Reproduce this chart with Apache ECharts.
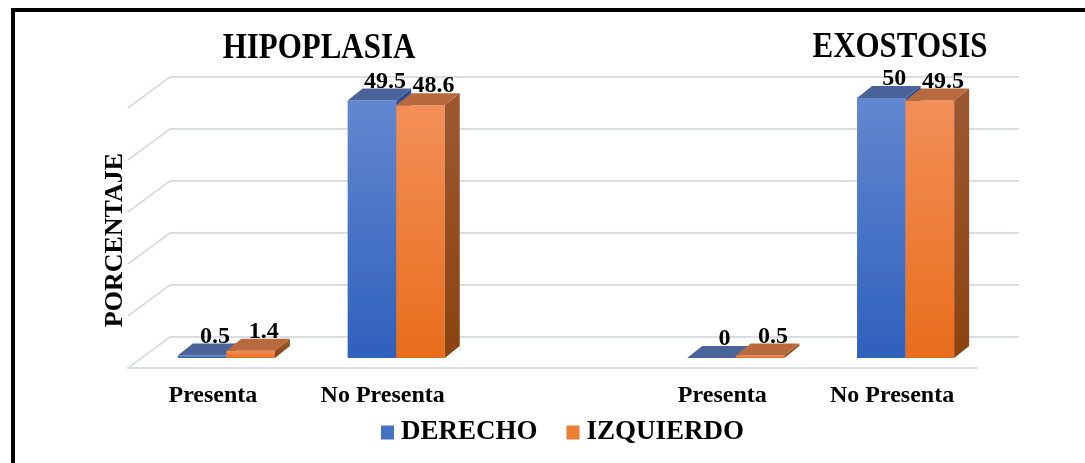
<!DOCTYPE html>
<html>
<head>
<meta charset="utf-8">
<script src="https://cdn.jsdelivr.net/npm/echarts@6/dist/echarts.min.js"></script>
<style>
  html, body { margin: 0; padding: 0; background: #fff; }
  #chart { width: 1085px; height: 463px; }
</style>
</head>
<body>
<div id="chart"></div>
<script>
// Categories along the floor; the empty slot separates the two panels
const categories = ['Presenta', 'No Presenta', '', 'Presenta', 'No Presenta'];
const derecho = [0.5, 49.5, null, 0, 50];
const izquierdo = [1.4, 48.6, null, 0.5, 49.5];
const yTicks = [0, 10, 20, 30, 40, 50];
const panelTitles = ['HIPOPLASIA', 'EXOSTOSIS'];
const seriesNames = ['DERECHO', 'IZQUIERDO'];
const axisTitle = 'PORCENTAJE';

const SERIF = '"Liberation Serif", "Times New Roman", serif';
// pseudo-3D geometry (pixels)
const FLOOR = [42, -31];   // back wall offset from the front floor edge
const FRONT = [13.5, -10]; // bar front face offset from the front floor edge
const DEPTH = [15, -12];   // bar depth
const BAR_W = 0.286;       // bar width as a fraction of the category band

const faces = [
  { // DERECHO
    front: new echarts.graphic.LinearGradient(0, 0, 0, 1, [
      { offset: 0, color: '#6287d0' }, { offset: 1, color: '#2f60bc' }]),
    top: '#4a6499',
    side: '#2b4f96',
    legend: '#4472c4'
  },
  { // IZQUIERDO
    front: new echarts.graphic.LinearGradient(0, 0, 0, 1, [
      { offset: 0, color: '#f38f58' }, { offset: 1, color: '#e86d1b' }]),
    top: '#b8693e',
    side: new echarts.graphic.LinearGradient(0, 0, 0, 1, [
      { offset: 0, color: '#9c5830' }, { offset: 1, color: '#8b4311' }]),
    legend: '#ed7d31'
  }
];

function toPairs(arr) {
  const out = [];
  arr.forEach(function (v, i) { if (v !== null) out.push([i, v]); });
  return out;
}

function barRenderer(k) {
  return function (params, api) {
    const i = api.value(0), v = api.value(1);
    const top = api.coord([i, v]);
    const base = api.coord([i, 0]);
    const band = api.size([1, 0])[0];
    const w = band * BAR_W;
    const x0 = top[0] + (k === 0 ? -w : 0) + FRONT[0];
    const x1 = x0 + w;
    const yT = top[1] + FRONT[1];
    const yB = base[1] + FRONT[1];
    const dx = DEPTH[0], dy = DEPTH[1];
    const f = faces[k];
    return {
      type: 'group',
      children: [
        { type: 'rect', shape: { x: x0, y: yT, width: w, height: Math.max(yB - yT, 0.01) },
          style: { fill: f.front } },
        { type: 'polygon', shape: { points: [[x1, yT], [x1 + dx, yT + dy], [x1 + dx, yB + dy], [x1, yB]] },
          style: { fill: f.side } },
        { type: 'polygon', shape: { points: [[x0, yT], [x0 + dx, yT + dy], [x1 + dx, yT + dy], [x1, yT]] },
          style: { fill: f.top } },
        { type: 'text', z2: 50,
          style: { text: String(v), x: x0 + w / 2 + dx - 2, y: yT + dy + 5,
                   align: 'center', verticalAlign: 'bottom',
                   font: 'bold 24px ' + SERIF, fill: '#000' } }
      ]
    };
  };
}

function wallRenderer(params, api) {
  const v = api.value(0);
  const band = api.size([1, 0])[0];
  const pl = api.coord([0, v]);
  const pr = api.coord([categories.length - 1, v]);
  const xl = pl[0] - band / 2;
  const xr = pr[0] + band / 2;
  const y = pl[1];
  return {
    type: 'polyline',
    shape: { points: [[xl, y], [xl + FLOOR[0], y + FLOOR[1]], [xr + FLOOR[0], y + FLOOR[1]]] },
    style: { stroke: '#dadde3', lineWidth: 2, fill: null }
  };
}

const chart = echarts.init(document.getElementById('chart'), null, { renderer: 'canvas' });
chart.setOption({
  animation: false,
  backgroundColor: '#fff',
  grid: { left: 128, right: 108, top: 108, bottom: 95 },
  xAxis: {
    type: 'category',
    data: categories,
    axisLine: { show: true, lineStyle: { color: '#dadde3', width: 2 } },
    axisTick: { show: false },
    axisLabel: { margin: 16, color: '#000', fontFamily: SERIF, fontWeight: 'bold', fontSize: 24, interval: 0 },
    splitLine: { show: false }
  },
  yAxis: {
    type: 'value', min: 0, max: 50, interval: 10,
    axisLine: { show: false }, axisTick: { show: false },
    axisLabel: { show: false }, splitLine: { show: false }
  },
  legend: {
    data: seriesNames,
    left: 376, top: 414,
    itemWidth: 13, itemHeight: 14, itemGap: 29,
    icon: 'rect',
    textStyle: { color: '#000', fontFamily: SERIF, fontWeight: 'bold', fontSize: 27, padding: [0, 0, 0, 2] }
  },
  graphic: [
    { type: 'rect', z: 100, silent: true,
      shape: { x: 13, y: 10, width: 1200, height: 600 },
      style: { fill: null, stroke: '#000', lineWidth: 4 } },
    { type: 'text', z: 100, x: 319, y: 49, scaleX: 0.86,
      style: { text: panelTitles[0], x: 0, y: 0, align: 'center', verticalAlign: 'middle',
      font: 'bold 36px ' + SERIF, fill: '#000' } },
    { type: 'text', z: 100, x: 900, y: 48, scaleX: 0.86,
      style: { text: panelTitles[1], x: 0, y: 0, align: 'center', verticalAlign: 'middle',
      font: 'bold 36px ' + SERIF, fill: '#000' } },
    { type: 'text', z: 100, x: 115, y: 240, rotation: Math.PI / 2,
      style: { text: axisTitle, x: 0, y: 0, align: 'center', verticalAlign: 'middle',
      font: 'bold 26px ' + SERIF, fill: '#000' } }
  ],
  series: [
    { type: 'custom', name: 'walls', z: 1, silent: true,
      data: yTicks.map(function (t) { return [t]; }),
      encode: { y: 0 },
      renderItem: wallRenderer },
    { type: 'custom', name: seriesNames[0], z: 2,
      itemStyle: { color: faces[0].legend },
      data: toPairs(derecho), encode: { x: 0, y: 1 },
      renderItem: barRenderer(0) },
    { type: 'custom', name: seriesNames[1], z: 3,
      itemStyle: { color: faces[1].legend },
      data: toPairs(izquierdo), encode: { x: 0, y: 1 },
      renderItem: barRenderer(1) }
  ]
});
</script>
</body>
</html>
